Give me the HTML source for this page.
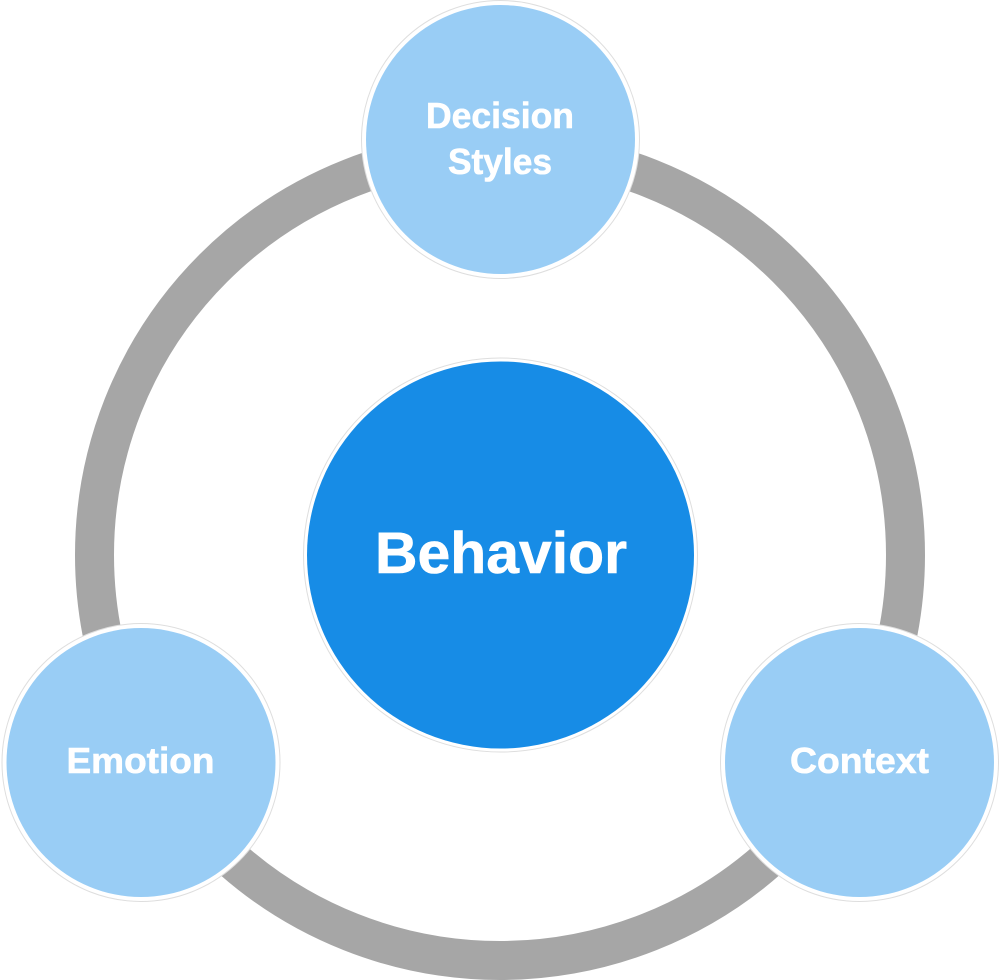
<!DOCTYPE html>
<html>
<head>
<meta charset="utf-8">
<style>
html,body{margin:0;padding:0;background:#fff;width:1000px;height:980px;overflow:hidden}
svg{display:block}
text{font-family:"Liberation Sans",sans-serif;font-weight:700;fill:#fff;stroke:#fff;stroke-width:.6px}
</style>
</head>
<body>
<svg width="1000" height="980" viewBox="0 0 1000 980" xmlns="http://www.w3.org/2000/svg">
<rect width="1000" height="980" fill="#fff"/>
<circle cx="500" cy="555" r="405.5" fill="none" stroke="#a6a6a6" stroke-width="39"/>

<circle cx="500.5" cy="139.5" r="139" fill="#fff" stroke="#dedede" stroke-width="1"/>
<circle cx="500.5" cy="139.5" r="134.5" fill="#99cdf5"/>
<circle cx="141" cy="762.5" r="139" fill="#fff" stroke="#dedede" stroke-width="1"/>
<circle cx="141" cy="762.5" r="134.5" fill="#99cdf5"/>
<circle cx="859.5" cy="762.5" r="139" fill="#fff" stroke="#dedede" stroke-width="1"/>
<circle cx="859.5" cy="762.5" r="134.5" fill="#99cdf5"/>
<circle cx="500.5" cy="555" r="197" fill="#fff" stroke="#dedede" stroke-width="1"/>
<circle cx="500.5" cy="555" r="193.5" fill="#178ce6"/>

<text x="426" y="128" font-size="36" textLength="148" lengthAdjust="spacingAndGlyphs">Decision</text>
<text x="448" y="174" font-size="36" textLength="104" lengthAdjust="spacingAndGlyphs">Styles</text>
<text x="66.5" y="773" font-size="36" textLength="148" lengthAdjust="spacingAndGlyphs">Emotion</text>
<text x="790" y="773" font-size="36" textLength="139" lengthAdjust="spacingAndGlyphs">Context</text>
<text x="375" y="573" font-size="58" textLength="252" lengthAdjust="spacingAndGlyphs">Behavior</text>
</svg>
</body>
</html>
